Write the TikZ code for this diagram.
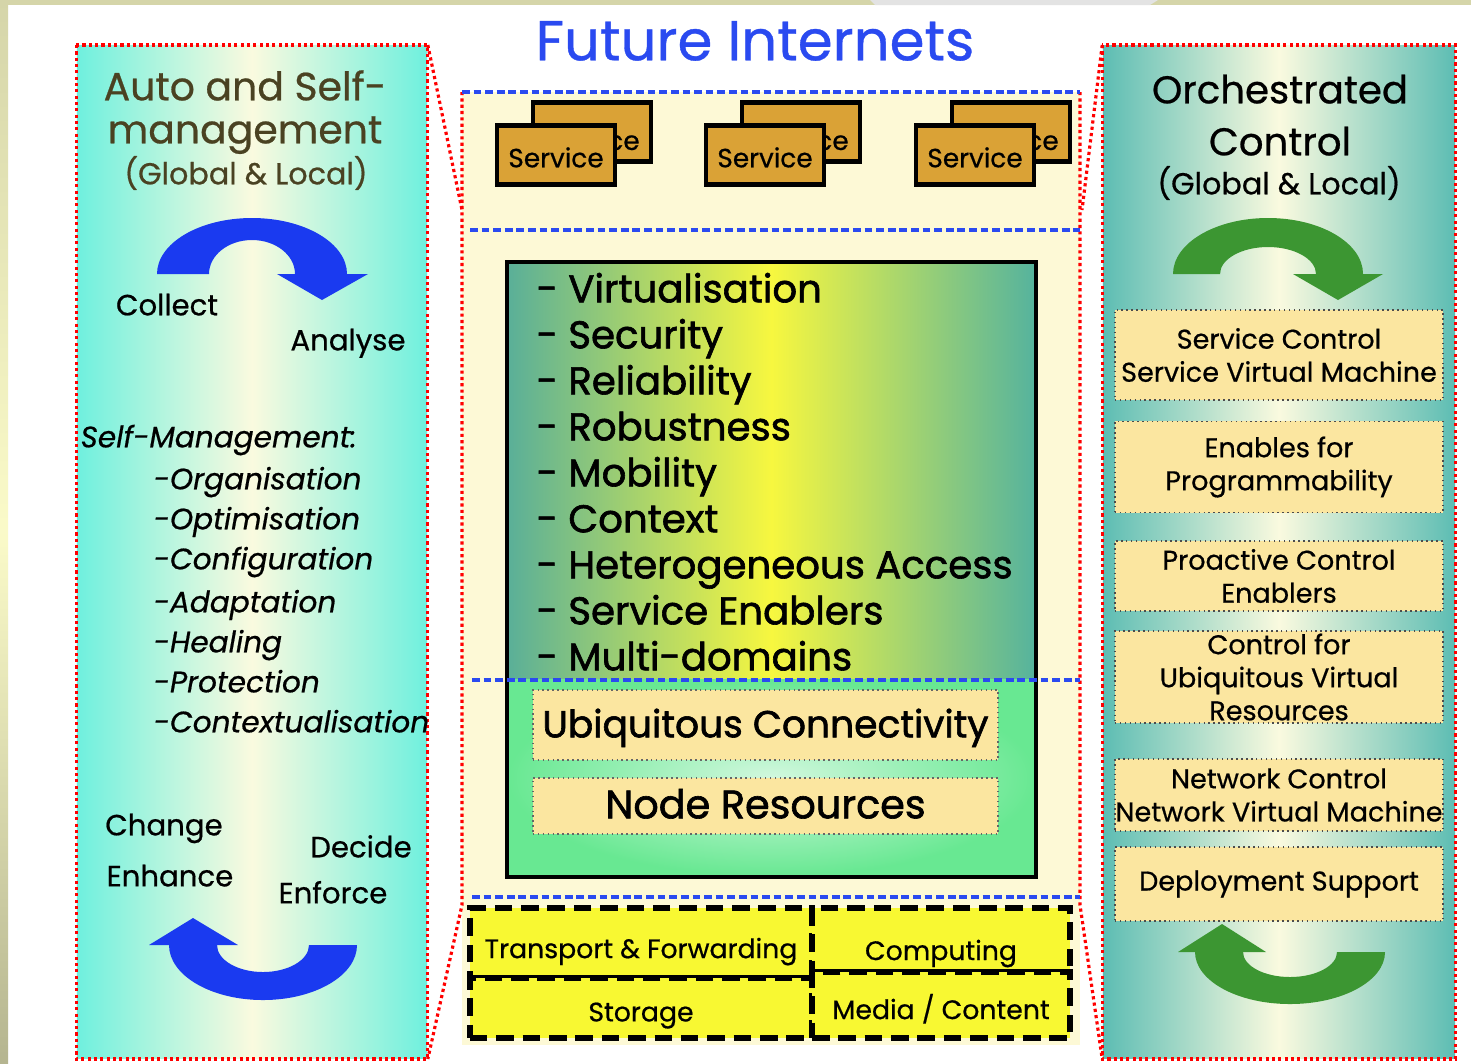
\documentclass[tikz,border=0pt]{standalone}
\usepackage{fontspec}
\setmainfont{Poppins}[FakeBold=0.6]
\newfontfamily\listfont{Poppins}[FakeBold=1.6]
\usepackage{xcolor}
\usepackage{tikz}

\definecolor{stripolive}{HTML}{D5D5A9}
\definecolor{stripgray}{HTML}{E3E3E3}
\definecolor{aquaedge}{HTML}{6FF0DE}
\definecolor{tealedge}{HTML}{5DBDB3}
\definecolor{creammid}{HTML}{FAFADF}
\definecolor{creamback}{HTML}{FDF9D6}
\definecolor{svcgold}{HTML}{DAA236}
\definecolor{boxyellow}{HTML}{FBE6A0}
\definecolor{coreteal}{HTML}{5AAF98}
\definecolor{coreyellow}{HTML}{F7F73F}
\definecolor{coregreen}{HTML}{68E892}
\definecolor{gridyellow}{HTML}{F8F832}
\definecolor{sepblue}{HTML}{2A4AF0}
\definecolor{arrowblue}{HTML}{1A3AF0}
\definecolor{arrowgreen}{HTML}{3C9632}
\definecolor{titlebrown}{HTML}{4A4222}

\newcommand{\fsize}[1]{\fontsize{#1}{#1}\selectfont}

\tikzset{
  redzoom/.style={draw=red, line width=0.9pt, dash pattern=on 0.9pt off 0.9pt},
  bluesep/.style={draw=sepblue, line width=1.2pt, dash pattern=on 2.2pt off 1.1pt},
  capline/.style={text height=0.7em, text depth=0pt},
  svcbox/.style={draw=black, line width=1.3pt, fill=svcgold, minimum width=1.18cm,
    minimum height=0.59cm, inner sep=0pt, capline, font=\fsize{7.5}},
  ctrlbox/.style={draw=black!70, densely dotted, line width=0.4pt, fill=boxyellow,
    minimum width=3.28cm, inner sep=0pt, align=center, font=\fontsize{7.7}{9.4}\selectfont},
  corebox/.style={draw=black!60, densely dotted, line width=0.4pt, fill=boxyellow,
    minimum width=4.65cm, inner sep=0pt, capline, font=\listfont\fsize{10.7}},
  gridcell/.style={draw=black, line width=1.5pt, dash pattern=on 5pt off 2.5pt,
    fill=gridyellow, inner sep=0pt, capline, font=\fsize{7.6}},
  item/.style={anchor=west, inner sep=0pt, capline, font=\listfont\fsize{11}},
  selfitem/.style={anchor=west, inner sep=0pt, capline, font=\fsize{8.4}\itshape},
  loopword/.style={inner sep=0pt, capline, font=\fsize{8.3}},
  paneltitle/.style={inner sep=0pt, capline, font=\fsize{11.2}}
}

\begin{document}
\begin{tikzpicture}[x=0.01cm,y=-0.01cm]
\useasboundingbox (0,0) rectangle (1471,1063);
\fill[white] (0,0) rectangle (1471,1063);
% bordi
\fill[stripolive] (0,0) rectangle (1471,5);
\fill[stripgray] (870,0) -- (1158,0) -- (1150,5) -- (875,5) -- cycle;
\shade[top color=stripolive, bottom color=stripolive!85!black, middle color=creammid!90!yellow] (0,0) rectangle (8,1063);

% Pannello sinistro
\node[draw=none, left color=aquaedge, right color=aquaedge, middle color=creammid,
  minimum width=3.5cm, minimum height=10.12cm, inner sep=0pt] (selfm) at (252,552) {};
\draw[redzoom] (selfm.north west) rectangle (selfm.south east);
% Pannello destro
\node[draw=none, left color=tealedge, right color=tealedge, middle color=creammid,
  minimum width=3.52cm, minimum height=10.12cm, inner sep=0pt] (orch) at (1279,552) {};
\draw[redzoom] (orch.north west) rectangle (orch.south east);

% Centro
\fill[creamback] (462,92) rectangle (1080,1045);
\coordinate (zTL) at (462,92);
\coordinate (zLa) at (462,210);
\coordinate (zBL) at (462,905);
\coordinate (zTR) at (1080,92);
\coordinate (zRa) at (1082,210);
\coordinate (zBR) at (1080,905);
\draw[redzoom] (selfm.north east) -- (zLa);
\draw[redzoom] (zTL) -- (zBL) -- (selfm.south east);
\draw[redzoom] (orch.north west) -- (zRa);
\draw[redzoom] (zTR) -- (zBR) -- (orch.south west);

\node[text=sepblue, capline, inner sep=0pt, font=\fsize{16}] (title) at (755,48) {Future Internets};

\coordinate (s1a) at (462,92);   \coordinate (s1b) at (1080,92);
\coordinate (s2a) at (470,230);  \coordinate (s2b) at (1080,230);
\coordinate (s3a) at (472,680);  \coordinate (s3b) at (1080,680);
\coordinate (s4a) at (472,897);  \coordinate (s4b) at (1080,897);
\draw[bluesep] (s1a) -- (s1b);
\draw[bluesep] (s2a) -- (s2b);

% Servizi
\node[svcbox] (svc1b) at (592,132) {\raisebox{-1.6pt}{Service}};
\node[svcbox] (svc1) at (556,155) {Service};
\node[svcbox] (svc2b) at (801,132) {\raisebox{-1.6pt}{Service}};
\node[svcbox] (svc2) at (765,155) {Service};
\node[svcbox] (svc3b) at (1011,132) {\raisebox{-1.6pt}{Service}};
\node[svcbox] (svc3) at (975,155) {Service};

% Nucleo
\node[left color=coreteal, right color=coreteal!95!cyan, middle color=coreyellow,
  minimum width=5.27cm, minimum height=4.17cm, inner sep=0pt] (core) at (771.5,471.5) {};
\node[inner color=coregreen!30!white, outer color=coregreen,
  minimum width=5.27cm, minimum height=1.96cm, inner sep=0pt] (base) at (771.5,778) {};
\draw[line width=1.1pt] (core.north west) rectangle (base.south east);
\draw[bluesep] (s3a) -- (s3b);

\node[item] (v1) at (536,290) {-\ Virtualisation};
\node[item] (v2) at (536,336) {-\ Security};
\node[item] (v3) at (536,382) {-\ Reliability};
\node[item] (v4) at (536,428) {-\ Robustness};
\node[item] (v5) at (536,474) {-\ Mobility};
\node[item] (v6) at (536,520) {-\ Context};
\node[item] (v7) at (536,566) {-\ Heterogeneous Access};
\node[item] (v8) at (536,612) {-\ Service Enablers};
\node[item] (v9) at (536,658) {-\ Multi-domains};

\node[corebox, minimum height=0.7cm] (ubiq) at (765.5,725) {Ubiquitous Connectivity};
\node[corebox, minimum height=0.56cm, font=\listfont\fsize{11.3}] (noderes) at (765.5,806) {Node Resources};

\draw[bluesep] (s4a) -- (s4b);

% Risorse
\node[gridcell, minimum width=3.42cm, minimum height=0.70cm] (transp) at (641,943) {\raisebox{-0.8pt}{Transport \& Forwarding}};
\node[gridcell, minimum width=3.42cm, minimum height=0.60cm] (storage) at (641,1008) {\raisebox{-0.3pt}{Storage}};
\node[gridcell, minimum width=2.58cm, minimum height=0.64cm] (comput) at (941,940) {\raisebox{-2.2pt}{Computing}};
\node[gridcell, minimum width=2.58cm, minimum height=0.66cm] (media) at (941,1005) {\raisebox{-0.5pt}{Media / Content}};

% Ciclo sinistro
\node[paneltitle, text=titlebrown] (lt1) at (245,88) {Auto and Self-};
\node[paneltitle, text=titlebrown] (lt2) at (245,131) {management};
\node[paneltitle, text=titlebrown, font=\fsize{8.6}] (lt3) at (246,172) {(Global \& Local)};
\fill[arrowblue] (157,274) arc[start angle=180, end angle=360, x radius=95, y radius=56]
  -- (368,274) -- (322,300) -- (277,274) -- (295,274)
  arc[start angle=360, end angle=180, x radius=43, y radius=34] -- cycle;
\node[loopword] (collect) at (167,303) {Collect};
\node[loopword] (analyse) at (348,338) {Analyse};

\node[selfitem] (sm) at (80,435) {Self-Management:};
\node[selfitem] (sm1) at (153,477) {-Organisation};
\node[selfitem] (sm2) at (153,517) {-Optimisation};
\node[selfitem] (sm3) at (153,557) {-Configuration};
\node[selfitem] (sm4) at (153,600) {-Adaptation};
\node[selfitem] (sm5) at (153,640) {-Healing};
\node[selfitem] (sm6) at (153,680) {-Protection};
\node[selfitem] (sm7) at (153,720) {-Contextualisation};

\node[loopword] (change) at (164,823) {Change};
\node[loopword] (enhance) at (170,874) {Enhance};
\node[loopword] (decide) at (361,845) {Decide};
\node[loopword] (enforce) at (333,891) {Enforce};
\fill[arrowblue] (357,945) arc[start angle=0, end angle=180, x radius=94, y radius=55]
  -- (149,945) -- (193,918) -- (238,945) -- (217,945)
  arc[start angle=180, end angle=0, x radius=46, y radius=27] -- cycle;

% Ciclo destro
\node[paneltitle, font=\fsize{11}] (rt1) at (1280,91) {Orchestrated};
\node[paneltitle, font=\fsize{11}] (rt2) at (1280,143) {Control};
\node[paneltitle, font=\fsize{8.6}] (rt3) at (1279,182) {(Global \& Local)};
\fill[arrowgreen] (1173,274) arc[start angle=180, end angle=360, x radius=95, y radius=56]
  -- (1383,274) -- (1338,300) -- (1293,274) -- (1316,274)
  arc[start angle=360, end angle=180, x radius=48, y radius=27] -- cycle;

\node[ctrlbox, minimum height=0.90cm] (svcctl) at (1279,355) {Service Control\\Service Virtual Machine};
\node[ctrlbox, minimum height=0.91cm] (progr) at (1279,467) {Enables for\\Programmability};
\node[ctrlbox, minimum height=0.70cm] (proact) at (1279,576) {Proactive Control\\Enablers};
\node[ctrlbox, minimum height=0.92cm] (ubictl) at (1279,677) {Control for\\Ubiquitous Virtual\\Resources};
\node[ctrlbox, minimum height=0.72cm] (netctl) at (1279,795) {Network Control\\Network Virtual Machine};
\node[ctrlbox, minimum height=0.74cm] (deploy) at (1279,884) {Deployment Support};

\fill[arrowgreen] (1385,952) arc[start angle=0, end angle=180, x radius=95, y radius=52]
  -- (1178,952) -- (1222,924) -- (1266,952) -- (1243,952)
  arc[start angle=180, end angle=0, x radius=47, y radius=25] -- cycle;
\end{tikzpicture}
\end{document}
